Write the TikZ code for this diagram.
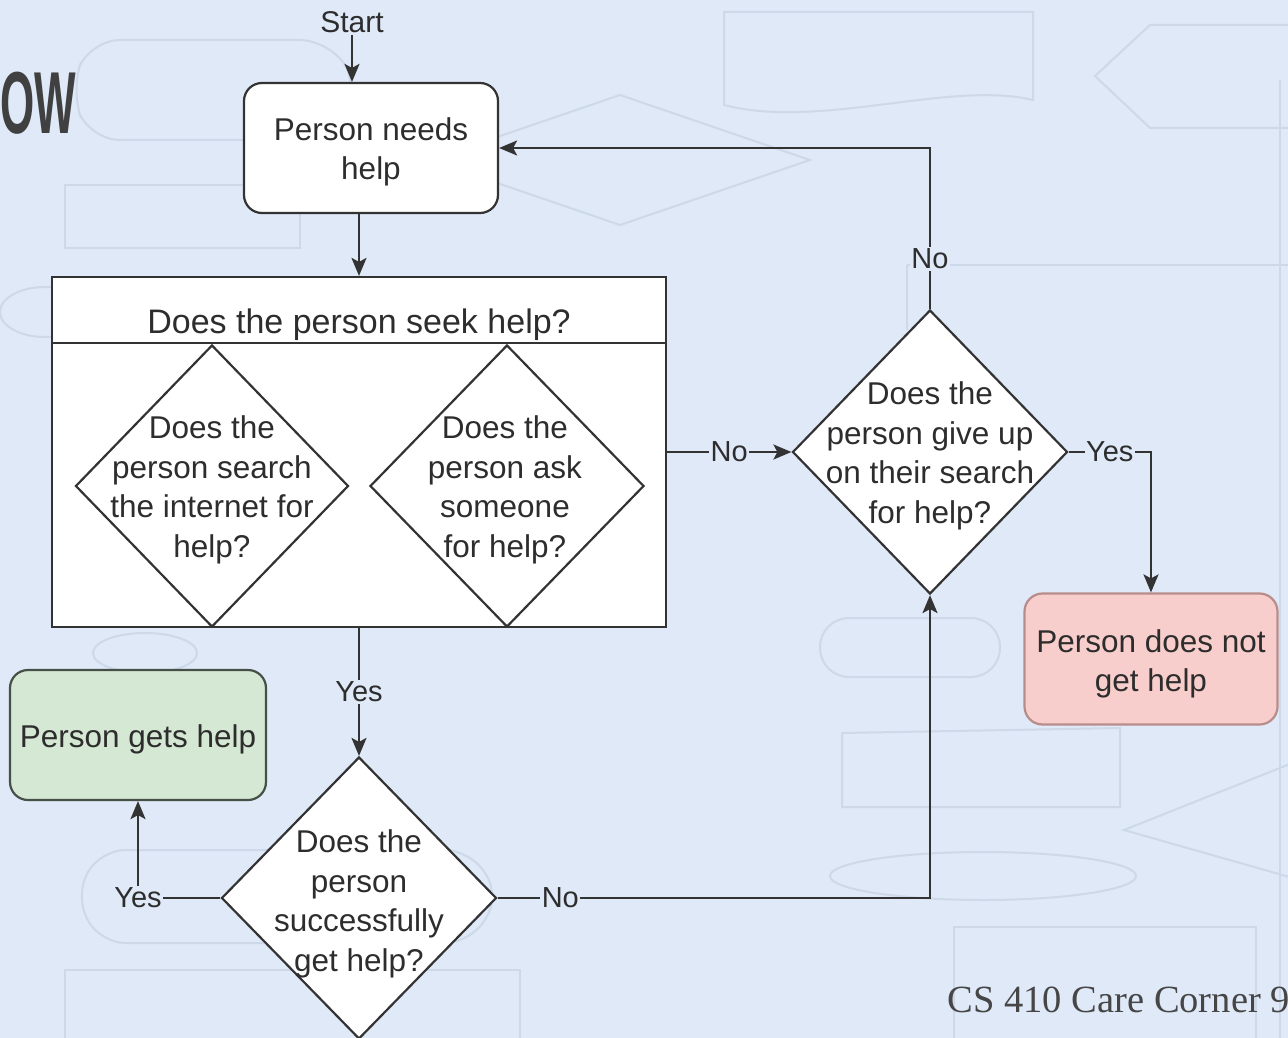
\documentclass[tikz,border=0pt]{standalone}
\usepackage{fontspec}
\setmainfont{Liberation Sans}
\newfontfamily\footfont{Liberation Serif}
\usetikzlibrary{shapes.geometric,arrows.meta}
\definecolor{bg}{RGB}{223,233,248}
\definecolor{faint}{RGB}{205,216,233}
\definecolor{line}{RGB}{51,51,51}
\definecolor{txt}{RGB}{45,45,45}
\definecolor{titlec}{RGB}{64,64,64}
\definecolor{footc}{RGB}{70,70,70}
\definecolor{goodfill}{RGB}{213,232,212}
\definecolor{goodline}{RGB}{70,80,70}
\definecolor{badfill}{RGB}{248,206,204}
\definecolor{badline}{RGB}{184,140,138}
\begin{document}
\begin{tikzpicture}[x=1pt,y=-1pt,
  boxnode/.style={draw=line, line width=2.2pt, rounded corners=18pt, fill=white, inner sep=0pt},
  dianode/.style={draw=line, line width=2.2pt, diamond, fill=white, inner sep=0pt},
  bodytext/.style={align=center, text=txt, font=\fontsize{31.5}{39.5}\selectfont, inner sep=0pt},
  lab/.style={fill=bg, inner sep=1.5pt, text=txt, font=\fontsize{29}{34}\selectfont},
  conn/.style={draw=line, line width=2.2pt},
  arr/.style={conn, -{Stealth[length=18pt,width=15pt,inset=4pt]}},
  ghost/.style={draw=faint, line width=2pt}
]
\useasboundingbox (0,0) rectangle (1288,1038);
\fill[bg] (0,0) rectangle (1288,1038);

% faint flowchart texture in the backdrop
\begin{scope}[ghost]
  \draw[rounded corners=30pt] (90,40) -- (330,40) -- (360,90) -- (330,140) -- (90,140) -- (70,90) -- cycle;
  \draw (65,185) rectangle (300,248);
  \draw (45,312) ellipse (45 and 25);
  \draw (620,95) -- (810,160) -- (620,225) -- (430,160) -- cycle;
  \draw (724,12) -- (1033,12) -- (1033,100) .. controls (950,80) and (820,130) .. (724,105) -- cycle;
  \draw (1150,25) -- (1300,25) -- (1300,128) -- (1150,128) -- (1095,76) -- cycle;
  \draw (907,265) -- (1290,265);
  \draw (907,265) -- (907,330);
  \draw[rounded corners=29pt] (820,618) rectangle (1000,677);
  \draw (842,733) -- (1120,728) -- (1120,807) -- (842,807) -- cycle;
  \draw (1300,760) -- (1124,830) -- (1300,880);
  \draw (983,876) ellipse (153 and 24);
  \draw (954,927) rectangle (1256,1040);
  \draw[rounded corners=25pt] (100,850) -- (470,850) -- (500,896) -- (470,943) -- (100,943) -- (75,896) -- cycle;
  \draw (65,970) rectangle (520,1040);
  \draw (145,653) ellipse (52 and 20);
  \draw (1280,80) -- (1280,1038);
\end{scope}

% title fragment and footer
\node[anchor=east, font=\bfseries\fontsize{88}{90}\selectfont, text=titlec,
      xscale=0.5, inner sep=0pt] (title) at (76,103) {OW};
\node[anchor=base east, font=\footfont\fontsize{38.5}{42}\selectfont, text=footc,
      inner sep=0pt] (foot) at (1290,1012) {CS 410 Care Corner 9};

% start and first step
\node[text=txt, font=\fontsize{30}{34}\selectfont, inner sep=2pt] (start) at (352,22) {Start};
\node[boxnode, minimum width=254pt, minimum height=130pt] (need) at (371,148) {};
\node[bodytext] (needtext) at (371,152) {Person needs\\help};

% container with header
\node[draw=line, line width=2.2pt, fill=white, minimum width=614pt, minimum height=350pt,
      inner sep=0pt] (cont) at (359,452) {};
\coordinate (hl) at (52,343);
\coordinate (hr) at (666,343);
\draw[conn] (hl) -- (hr);
\node[bodytext, font=\fontsize{34}{40}\selectfont] (hdr) at (359,325) {Does the person seek help?};

% inner diamonds
\node[dianode, minimum width=273pt, minimum height=282pt] (d1) at (212,486) {};
\node[bodytext] (t1) at (212,490) {Does the\\person search\\the internet for\\help?};
\node[dianode, minimum width=274pt, minimum height=282pt] (d2) at (507,486) {};
\node[bodytext] (t2) at (505,490) {Does the\\person ask\\someone\\for help?};

% give up decision
\node[dianode, minimum width=275pt, minimum height=284pt] (d3) at (930,452) {};
\node[bodytext] (t3) at (930,456) {Does the\\person give up\\on their search\\for help?};

% success decision
\node[dianode, minimum width=275pt, minimum height=282pt] (d4) at (359,898) {};
\node[bodytext] (t4) at (359,904) {Does the\\person\\successfully\\get help?};

% outcomes
\node[boxnode, fill=goodfill, draw=goodline, minimum width=256pt, minimum height=130pt]
  (got) at (138,735) {};
\node[bodytext] (gottext) at (138,739) {Person gets help};
\node[boxnode, fill=badfill, draw=badline, minimum width=253pt, minimum height=131pt]
  (fail) at (1151,659) {};
\node[bodytext] (failtext) at (1151,664) {Person does not\\get help};

% connectors
\draw[arr] (start.south) -- (start.south |- need.north);
\draw[arr] (cont.north |- need.south) -- (cont.north);
\draw[arr] (cont.east |- d3.west) -- node[lab]{No} (d3.west);
\draw[arr] (d3.north) -- node[lab, pos=0.31]{No} (d3.north |- need.east) -- (need.east);
\draw[arr] (d3.east) -- node[lab]{Yes} (d3.east -| fail.north) -- (fail.north);
\draw[arr] (cont.south) -- node[lab]{Yes} (d4.north);
\draw[arr] (d4.west) -- (d4.west -| got.south) node[lab]{Yes} -- (got.south);
\draw[arr] (d4.east) -- node[lab, pos=0.145]{No} (d4.east -| d3.south) -- (d3.south);
\end{tikzpicture}
\end{document}
